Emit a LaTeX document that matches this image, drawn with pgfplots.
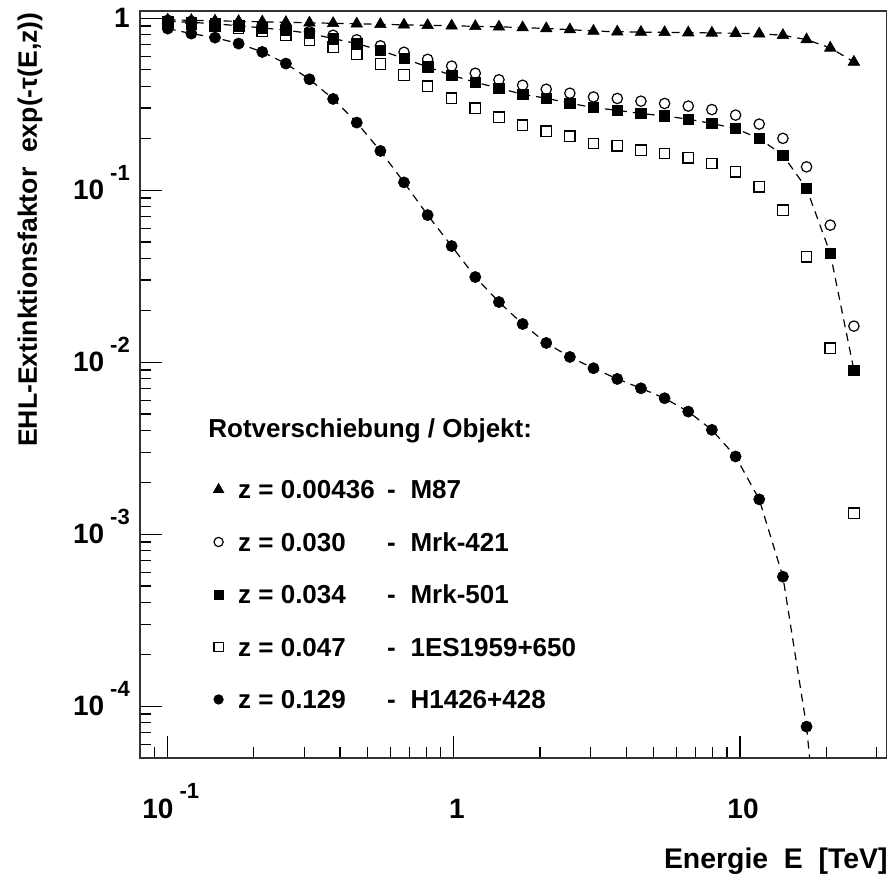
\documentclass[border=0pt]{standalone}
\usepackage{fontspec}
\setmainfont{Liberation Sans}
\usepackage{pgfplots}
\pgfplotsset{compat=1.18}

% label fonts
\newcommand{\lbl}{\fontsize{13}{15}\selectfont\bfseries}
\newcommand{\ttl}{\fontsize{14.2}{16}\selectfont\bfseries}
\newcommand{\ytl}{\fontsize{13.3}{15}\selectfont\bfseries}
\newcommand{\tck}{\fontsize{14}{16}\selectfont\bfseries}
\newcommand{\expo}{\fontsize{11}{11}\selectfont\bfseries}
\newcommand{\tenpow}[1]{10\hspace{3pt}\raisebox{9.5pt}{\expo #1}}

\begin{document}
\begin{tikzpicture}
\path[use as bounding box] (0,0) rectangle (444.5pt,438pt);
\begin{axis}[
  at={(70pt,59pt)}, anchor=south west,
  width=373.25pt, height=373.5pt, scale only axis,
  xmode=log, ymode=log,
  xmin=0.08, xmax=32.5, ymin=5e-5, ymax=1.1,
  axis line style={black!80, line width=0.8pt},
  tick align=inside, tick pos=left,
  major tick length=11pt, minor tick length=5.5pt,
  every tick/.style={black, line width=0.6pt},
  xtick={0.1,1,10},
  xticklabels={\tenpow{-1},1,10},
  minor xtick={0.08,0.09,0.2,0.3,0.4,0.5,0.6,0.7,0.8,0.9,2,3,4,5,6,7,8,9,20,30},
  ytick={1e-4,1e-3,1e-2,1e-1,1},
  yticklabels={\tenpow{-4},\tenpow{-3},\tenpow{-2},\tenpow{-1},1\hspace{11pt}},
  minor ytick={6e-5,7e-5,8e-5,9e-5,
    2e-4,3e-4,4e-4,5e-4,6e-4,7e-4,8e-4,9e-4,
    2e-3,3e-3,4e-3,5e-3,6e-3,7e-3,8e-3,9e-3,
    2e-2,3e-2,4e-2,5e-2,6e-2,7e-2,8e-2,9e-2,
    0.2,0.3,0.4,0.5,0.6,0.7,0.8,0.9},
  xticklabel style={font=\tck, anchor=base, inner sep=0pt, yshift=-30pt, xshift=1.5pt},
  yticklabel style={font=\tck, anchor=base east, inner sep=0pt, xshift=-4.9pt, yshift=-4.7pt},
  xlabel={Energie\ \ E\ \ [TeV]},
  ylabel={EHL-Extinktionsfaktor\ \ exp(-τ(E,z))},
  every axis x label/.style={at={(axis description cs:1.002,-0.1473)}, anchor=base east, font=\ttl, inner sep=0pt},
  every axis y label/.style={at={(axis description cs:-0.138,0.9987)}, anchor=base east, rotate=90, font=\ytl, inner sep=0pt},
  legend cell align=left,
  legend image code/.code={\path (-5pt,0pt) (5pt,0pt); \draw[#1] plot coordinates {(0pt,0pt)};},
  legend style={draw=none, fill=none, inner sep=0pt, outer sep=0pt,
    row sep=13.75pt, font=\lbl,
    nodes={inner sep=0pt, text height=11pt, text depth=1.5pt},
    /tikz/every odd column/.append style={column sep=4.5pt},
    at={(axis description cs:0.0911,0.3762)}, anchor=north west},
]

% M87, z = 0.00436
\addplot[black, line width=0.6pt, dash pattern=on 4pt off 3pt,
  mark=triangle*, mark size=3.3pt, mark options={solid, fill=black, line width=0.3pt},
  legend image post style={mark size=3pt}]
coordinates {
(0.1000,0.977) (0.1209,0.971) (0.1463,0.964) (0.1769,0.958) (0.2140,0.952)
(0.2588,0.945) (0.3129,0.939) (0.3785,0.933) (0.4577,0.927) (0.5536,0.920)
(0.6695,0.914) (0.8097,0.908) (0.9823,0.902) (1.188,0.896) (1.437,0.890)
(1.739,0.881) (2.103,0.870) (2.543,0.857) (3.075,0.841) (3.724,0.833)
(4.505,0.829) (5.450,0.826) (6.593,0.823) (7.974,0.820) (9.649,0.817)
(11.67,0.811) (14.12,0.795) (17.08,0.750) (20.67,0.671) (25.00,0.556)
};
\addlegendentry{\makebox[74.5pt][l]{z = 0.00436}\makebox[11.7pt][l]{-}M87}

% Mrk-421, z = 0.030
\addplot[black, only marks, mark=o, mark size=2.6pt, mark options={line width=0.6pt},
  legend image post style={mark size=2.3pt}]
coordinates {
(0.1000,0.971) (0.1209,0.958) (0.1463,0.939) (0.1769,0.920) (0.2140,0.896)
(0.2588,0.867) (0.3129,0.833) (0.3785,0.795) (0.4577,0.748) (0.5536,0.690)
(0.6695,0.633) (0.8097,0.576) (0.9823,0.526) (1.188,0.478) (1.437,0.438)
(1.739,0.407) (2.103,0.386) (2.543,0.366) (3.075,0.348) (3.724,0.341)
(4.505,0.329) (5.450,0.319) (6.593,0.308) (7.974,0.294) (9.649,0.273)
(11.67,0.242) (14.12,0.200) (17.08,0.1366) (20.67,0.0626) (25.00,0.0162)
};
\addlegendentry{\makebox[74.5pt][l]{z = 0.030}\makebox[11.7pt][l]{-}Mrk-421}

% Mrk-501, z = 0.034
\addplot[black, line width=0.6pt, dash pattern=on 4pt off 3pt,
  mark=square*, mark size=2.6pt, mark options={solid, fill=black, line width=0.3pt},
  legend image post style={mark size=2.3pt}]
coordinates {
(0.1000,0.958) (0.1209,0.945) (0.1463,0.927) (0.1769,0.902) (0.2140,0.878)
(0.2588,0.850) (0.3129,0.816) (0.3785,0.760) (0.4577,0.711) (0.5536,0.650)
(0.6695,0.582) (0.8097,0.520) (0.9823,0.465) (1.188,0.424) (1.437,0.391)
(1.739,0.361) (2.103,0.342) (2.543,0.320) (3.075,0.302) (3.724,0.291)
(4.505,0.279) (5.450,0.270) (6.593,0.2585) (7.974,0.244) (9.649,0.228)
(11.67,0.1996) (14.12,0.1597) (17.08,0.1023) (20.67,0.0429) (25.00,0.0090)
};
\addlegendentry{\makebox[74.5pt][l]{z = 0.034}\makebox[11.7pt][l]{-}Mrk-501}

% 1ES1959+650, z = 0.047
\addplot[black, only marks, mark=square, mark size=2.6pt, mark options={line width=0.6pt},
  legend image post style={mark size=2.3pt}]
coordinates {
(0.1000,0.945) (0.1209,0.927) (0.1463,0.902) (0.1769,0.873) (0.2140,0.838)
(0.2588,0.795) (0.3129,0.743) (0.3785,0.677) (0.4577,0.614) (0.5536,0.541)
(0.6695,0.467) (0.8097,0.402) (0.9823,0.342) (1.188,0.2995) (1.437,0.2654)
(1.739,0.2384) (2.103,0.2202) (2.543,0.2059) (3.075,0.1867) (3.724,0.1808)
(4.505,0.1707) (5.450,0.1633) (6.593,0.1540) (7.974,0.1429) (9.649,0.1277)
(11.67,0.1045) (14.12,0.0765) (17.08,0.0410) (20.67,0.01204) (25.00,0.001326)
};
\addlegendentry{\makebox[74.5pt][l]{z = 0.047}\makebox[11.7pt][l]{-}1ES1959+650}

% H1426+428, z = 0.129
\addplot[black, line width=0.6pt, dash pattern=on 4pt off 3pt,
  mark=*, mark size=2.8pt, mark options={solid, fill=black, line width=0.3pt},
  legend image post style={mark size=2.4pt}]
coordinates {
(0.1000,0.869) (0.1209,0.813) (0.1463,0.770) (0.1769,0.711) (0.2140,0.636)
(0.2588,0.544) (0.3129,0.441) (0.3785,0.339) (0.4577,0.247) (0.5536,0.169)
(0.6695,0.1109) (0.8097,0.0716) (0.9823,0.0473) (1.188,0.03125) (1.437,0.02236)
(1.739,0.01667) (2.103,0.01293) (2.543,0.01072) (3.075,0.00922) (3.724,0.00799)
(4.505,0.00705) (5.450,0.00617) (6.593,0.00516) (7.974,0.00404) (9.649,0.00283)
(11.67,0.001594) (14.12,0.000566) (17.08,0.0000761)
};
\addlegendentry{\makebox[74.5pt][l]{z = 0.129}\makebox[11.7pt][l]{-}H1426+428}

% continuation of the H1426+428 curve below the axis range
\addplot[black, line width=0.6pt, dash pattern=on 4pt off 3pt, forget plot]
coordinates {(17.08,0.0000761) (20.67,0.000003)};

\node[anchor=base west, font=\lbl, inner sep=0pt] at (axis description cs:0.0911,0.4297) {Rotverschiebung / Objekt:};
\end{axis}
\end{tikzpicture}
\end{document}
